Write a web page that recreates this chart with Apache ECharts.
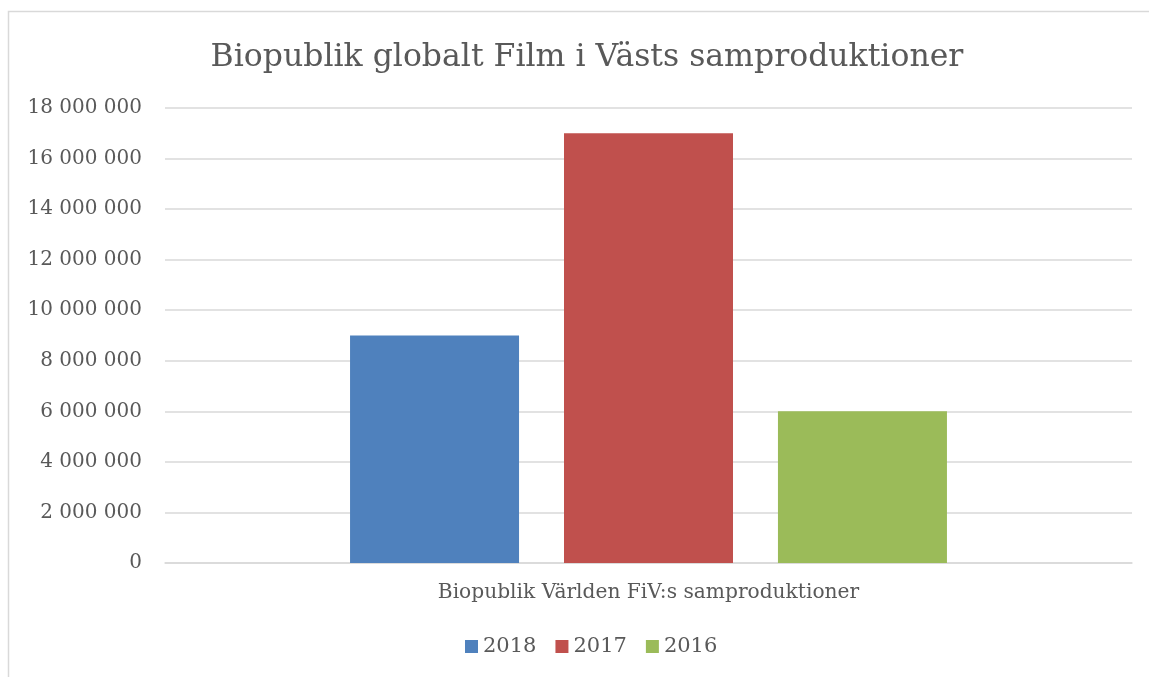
<!DOCTYPE html>
<html>
<head>
<meta charset="utf-8">
<script src="https://cdn.jsdelivr.net/npm/echarts@6/dist/echarts.min.js"></script>
<style>
  html, body { margin: 0; padding: 0; background: #ffffff; }
  #chart { width: 1149px; height: 677px; }
</style>
</head>
<body>
<div id="chart"></div>
<script>
// data
const categories = ["Biopublik Världen FiV:s samproduktioner"];
const seriesNames = ["2018", "2017", "2016"];
const values2018 = [9000000];
const values2017 = [17000000];
const values2016 = [6000000];
const colors = ["#4F81BD", "#C0504D", "#9BBB59"];

const serif = "DejaVu Serif";
const fmt = v => String(v).replace(/\B(?=(\d{3})+(?!\d))/g, " ");

const chart = echarts.init(document.getElementById("chart"));
const seriesData = [values2018, values2017, values2016];

chart.setOption({
  animation: false,
  title: {
    text: "Biopublik globalt Film i Västs samproduktioner",
    left: 582,
    top: 37,
    textAlign: "center",
    textStyle: { fontFamily: serif, fontSize: 31.5, fontWeight: "normal", color: "#595959" }
  },
  graphic: [{
    type: "rect",
    shape: { x: 8.5, y: 11.5, width: 1200, height: 700 },
    style: { fill: "none", stroke: "#d9d9d9", lineWidth: 1.5 },
    silent: true
  }],
  legend: {
    data: seriesNames,
    bottom: 15,
    left: 460,
    icon: "rect",
    itemWidth: 13,
    itemHeight: 13,
    itemGap: 19,
    textStyle: { fontFamily: serif, fontSize: 21, color: "#595959" }
  },
  grid: { left: 165, right: 17, top: 108, bottom: 114 },
  xAxis: {
    type: "category",
    data: categories,
    axisLine: { lineStyle: { color: "#d9d9d9", width: 1.5 } },
    axisTick: { show: false },
    axisLabel: { fontFamily: serif, fontSize: 20.2, color: "#595959", margin: 20 }
  },
  yAxis: {
    type: "value",
    min: 0,
    max: 18000000,
    interval: 2000000,
    axisLine: { show: false },
    axisTick: { show: false },
    splitLine: { lineStyle: { color: "#d9d9d9", width: 1.5 } },
    axisLabel: { fontFamily: serif, fontSize: 20, color: "#595959", margin: 23, formatter: fmt }
  },
  series: seriesNames.map((name, i) => ({
    name: name,
    type: "bar",
    data: seriesData[i],
    barWidth: 169,
    barGap: "26.6%",
    itemStyle: { color: colors[i] }
  }))
});
</script>
</body>
</html>
